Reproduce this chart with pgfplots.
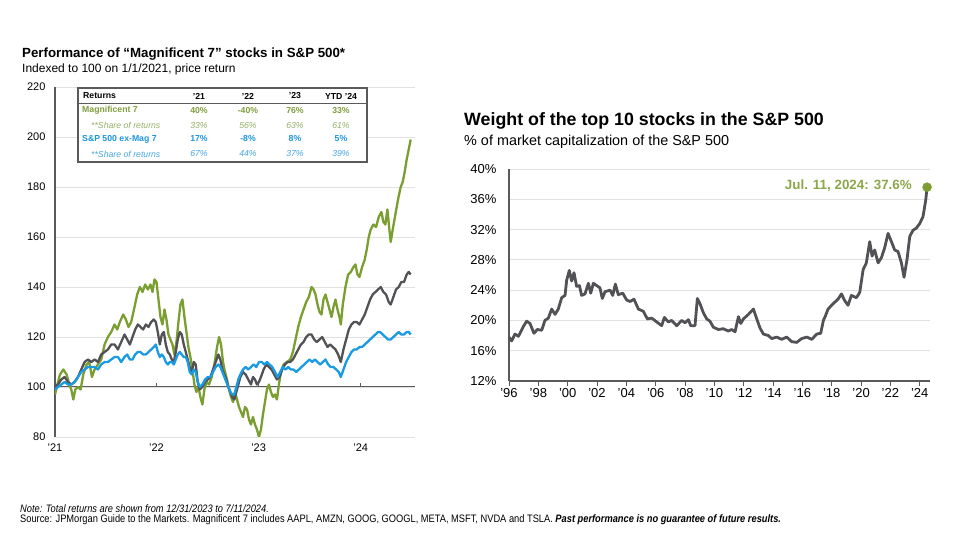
\documentclass[border=0pt]{standalone}
\usepackage{fontspec}
\setmainfont{Liberation Sans}
\newfontfamily\narrowfont[FakeStretch=0.86]{Liberation Sans}
\usepackage{pgfplots}
\pgfplotsset{compat=1.18}
\definecolor{magc}{RGB}{122,158,48}
\definecolor{spc}{RGB}{82,82,86}
\definecolor{exc}{RGB}{25,155,228}
\definecolor{tgreen}{RGB}{128,158,60}
\definecolor{tgreenl}{RGB}{150,176,104}
\definecolor{tblue}{RGB}{30,150,222}
\definecolor{tbluel}{RGB}{72,166,226}
\definecolor{annot}{RGB}{140,166,74}
\definecolor{gridc}{RGB}{225,225,225}
\definecolor{axc}{RGB}{90,90,90}
\begin{document}
\begin{tikzpicture}
\fill[white] (0pt,0pt) rectangle (960pt,540pt);
% ---------- titles ----------
\node[anchor=base west, inner sep=0pt, font=\bfseries\fontsize{13.3}{15}\selectfont] at (22pt,482pt) {Performance of “Magnificent 7” stocks in S\&P 500*};
\node[anchor=base west, inner sep=0pt, font=\fontsize{12}{14}\selectfont] at (22pt,467pt) {Indexed to 100 on 1/1/2021, price return};
\node[anchor=base west, inner sep=0pt, font=\bfseries\fontsize{17.8}{20}\selectfont] at (464pt,414pt) {Weight of the top 10 stocks in the S\&P 500};
\node[anchor=base west, inner sep=0pt, font=\fontsize{14.4}{17}\selectfont] at (464pt,394pt) {\% of market capitalization of the S\&P 500};

% ---------- left chart ----------
\begin{axis}[
  at={(55pt,103pt)}, anchor=south west,
  scale only axis, width=360pt, height=350pt,
  xmin=163, xmax=1245, ymin=80, ymax=220,
  xtick={163,468,775,1082}, xticklabels={'21,'22,'23,'24},
  ytick={80,100,...,220},
  ymajorgrids, grid style={gridc, line width=0.8pt},
  extra y ticks={100}, extra y tick labels={},
  extra y tick style={grid style={axc, line width=1pt}},
  axis x line*=bottom, axis y line*=left,
  x axis line style={draw=none},
  y axis line style={axc, line width=1.2pt},
  major tick length=0pt,
  tick label style={font=\fontsize{11}{13}\selectfont},
  /pgf/number format/assume math mode=true,
  yticklabel style={xshift=-6pt},
  xticklabel style={yshift=-3pt},
]
\draw[axc, line width=1pt] (axis cs:468,100) -- ++(0pt,4pt);
\draw[axc, line width=1pt] (axis cs:775,100) -- ++(0pt,4pt);
\draw[axc, line width=1pt] (axis cs:1082,100) -- ++(0pt,4pt);
\addplot[magc, line width=2.3pt, line join=round] coordinates {
(163,97)(170,101)(178,105)(188,107)(198,105)(206,101)(212,99)(218,95)(224,99)(232,100)(240,99)(248,105)(258,109)(266,110)(274,104)(282,107)(292,109)(302,111)(312,117)(322,120)(332,122)(342,125)(350,123)(358,126)(368,129)(376,127)(384,124)(392,126)(402,132)(410,137)(418,140)(426,138)(434,141)(442,139)(450,141)(456,138)(462,143)(468,142)(474,135)(480,128)(486,125)(492,131)(498,127)(504,121)(510,119)(516,117)(522,113)(528,118)(534,126)(540,133)(546,135)(552,128)(558,122)(564,116)(570,112)(576,107)(582,101)(588,98)(594,100)(600,96)(606,93)(612,99)(618,102)(626,101)(634,104)(642,109)(650,116)(656,120)(662,117)(668,110)(674,106)(680,103)(686,99)(692,96)(698,94)(704,98)(710,95)(716,92)(722,90)(728,88)(734,92)(740,91)(746,87)(752,85)(758,88)(764,85)(770,83)(776,80)(782,83)(788,89)(794,94)(800,99)(806,101)(812,98)(818,96)(824,97)(830,95)(836,101)(842,106)(850,109)(860,110)(870,111)(878,114)(886,119)(894,124)(902,128)(910,131)(918,134)(926,136)(934,140)(940,139)(946,137)(952,133)(958,130)(964,129)(970,135)(976,137)(982,134)(988,131)(994,128)(1000,132)(1006,135)(1012,131)(1018,128)(1022,125)(1028,133)(1036,140)(1044,145)(1052,146)(1060,148)(1066,149)(1072,145)(1078,144)(1086,148)(1094,151)(1100,155)(1106,160)(1112,163)(1120,165)(1128,164)(1136,168)(1144,170)(1150,166)(1156,165)(1162,171)(1168,163)(1172,158)(1178,163)(1186,169)(1194,175)(1202,180)(1208,182)(1214,186)(1220,191)(1226,195)(1232,199)
};
\addplot[spc, line width=2.3pt, line join=round] coordinates {
(163,100)(172,101)(182,103)(192,104)(202,102)(212,101)(222,102)(232,104)(242,107)(252,110)(262,111)(272,110)(282,111)(292,110)(302,113)(312,114)(322,115)(332,117)(342,117)(352,115)(362,118)(372,121)(380,119)(388,117)(396,120)(404,123)(412,125)(420,124)(428,123)(436,125)(444,124)(452,126)(460,127)(466,126)(472,122)(478,117)(484,121)(490,122)(496,117)(502,114)(508,113)(514,111)(520,110)(526,114)(532,119)(538,122)(544,121)(550,117)(556,114)(562,111)(568,108)(574,106)(580,110)(586,109)(592,102)(598,99)(606,100)(614,102)(622,103)(630,104)(638,107)(646,110)(654,113)(660,111)(666,107)(672,105)(678,103)(684,100)(690,98)(696,96)(702,95)(708,98)(714,101)(720,104)(728,106)(736,105)(744,103)(752,101)(758,104)(764,103)(770,101)(776,102)(782,104)(790,107)(798,109)(806,108)(814,107)(822,105)(830,103)(838,104)(846,107)(854,109)(862,110)(870,110)(878,111)(886,113)(894,115)(902,117)(910,118)(918,120)(926,121)(934,121)(942,119)(950,118)(958,119)(966,120)(974,118)(982,116)(990,117)(998,116)(1006,115)(1014,113)(1022,110)(1030,115)(1038,119)(1046,123)(1054,125)(1062,126)(1070,126)(1078,125)(1086,127)(1094,129)(1102,132)(1110,135)(1118,137)(1126,138)(1134,139)(1142,140)(1150,138)(1158,137)(1166,134)(1172,133)(1180,136)(1188,139)(1196,140)(1204,142)(1212,142)(1220,145)(1226,146)(1232,145)
};
\addplot[exc, line width=2.3pt, line join=round] coordinates {
(163,99)(172,100)(182,101)(192,102)(202,101)(212,101)(222,102)(232,104)(242,106)(252,107)(262,108)(272,108)(282,108)(292,107)(302,109)(312,110)(322,110)(332,111)(342,112)(352,112)(362,110)(372,112)(380,113)(388,111)(396,111)(404,113)(412,114)(420,114)(428,113)(436,113)(444,114)(452,115)(460,116)(466,117)(472,114)(478,112)(484,113)(490,112)(496,110)(502,109)(508,110)(514,110)(520,109)(526,111)(532,113)(538,114)(544,113)(550,112)(556,112)(562,110)(568,106)(574,105)(580,107)(586,106)(592,102)(598,100)(606,101)(614,103)(622,104)(630,104)(638,106)(646,108)(654,109)(660,108)(666,106)(672,104)(678,102)(684,100)(690,98)(696,97)(702,97)(708,100)(714,103)(720,105)(728,107)(736,108)(744,107)(752,108)(760,109)(768,108)(776,110)(784,110)(792,109)(800,110)(808,109)(816,108)(824,106)(832,104)(840,106)(848,108)(856,107)(864,108)(872,107)(880,107)(888,106)(896,107)(904,108)(912,109)(920,110)(928,111)(936,110)(944,111)(952,110)(960,109)(968,110)(976,111)(984,109)(992,108)(1000,108)(1008,107)(1016,106)(1022,104)(1030,107)(1038,110)(1046,112)(1054,114)(1062,115)(1070,115)(1078,116)(1086,116)(1094,117)(1102,118)(1110,119)(1118,120)(1126,121)(1134,122)(1140,122)(1148,121)(1156,120)(1164,119)(1172,119)(1180,120)(1188,121)(1196,122)(1204,121)(1212,121)(1220,122)(1226,122)(1232,121)
};
\end{axis}

% ---------- returns table ----------
\draw[axc, line width=1.2pt, fill=white] (78pt,452pt) rectangle (367pt,378pt);
\draw[axc, line width=0.9pt] (78pt,437pt) -- (367pt,437pt);
\begin{scope}[every node/.style={inner sep=0pt, font=\fontsize{8.7}{10}\selectfont}]
\node[anchor=west, font=\bfseries\fontsize{8.7}{10}\selectfont] at (83pt,444pt) {Returns};
\node[font=\bfseries\fontsize{8.7}{10}\selectfont] at (199pt,444pt) {'21};
\node[font=\bfseries\fontsize{8.7}{10}\selectfont] at (248pt,444pt) {'22};
\node[font=\bfseries\fontsize{8.7}{10}\selectfont] at (295pt,444pt) {'23};
\node[font=\bfseries\fontsize{8.7}{10}\selectfont] at (341pt,444pt) {YTD '24};
\begin{scope}[every node/.append style={text=tgreen, font=\bfseries\fontsize{8.7}{10}\selectfont}]
\node[anchor=west] at (82pt,429.5pt) {Magnificent 7};
\node at (199pt,429.5pt) {40\%};
\node at (248pt,429.5pt) {-40\%};
\node at (295pt,429.5pt) {76\%};
\node at (341pt,429.5pt) {33\%};
\end{scope}
\begin{scope}[every node/.append style={text=tgreenl, font=\itshape\fontsize{8.7}{10}\selectfont}]
\node[anchor=west] at (91pt,414.5pt) {**Share of returns};
\node at (199pt,414.5pt) {33\%};
\node at (248pt,414.5pt) {56\%};
\node at (295pt,414.5pt) {63\%};
\node at (341pt,414.5pt) {61\%};
\end{scope}
\begin{scope}[every node/.append style={text=tblue, font=\bfseries\fontsize{8.7}{10}\selectfont}]
\node[anchor=west] at (82pt,401pt) {S\&P 500 ex-Mag 7};
\node at (199pt,401pt) {17\%};
\node at (248pt,401pt) {-8\%};
\node at (295pt,401pt) {8\%};
\node at (341pt,401pt) {5\%};
\end{scope}
\begin{scope}[every node/.append style={text=tbluel, font=\itshape\fontsize{8.7}{10}\selectfont}]
\node[anchor=west] at (91pt,386pt) {**Share of returns};
\node at (199pt,386pt) {67\%};
\node at (248pt,386pt) {44\%};
\node at (295pt,386pt) {37\%};
\node at (341pt,386pt) {39\%};
\end{scope}
\end{scope}

% ---------- right chart ----------
\begin{axis}[
  at={(509pt,159pt)}, anchor=south west,
  scale only axis, width=421pt, height=212pt,
  xmin=1996, xmax=2024.7, ymin=12, ymax=40,
  xtick={1996,1998,...,2024},
  xticklabels={'96,'98,'00,'02,'04,'06,'08,'10,'12,'14,'16,'18,'20,'22,'24},
  ytick={12,16,...,40},
  yticklabel={\pgfmathprintnumber{\tick}\%},
  ymajorgrids, grid style={gridc, line width=0.8pt},
  axis x line*=bottom, axis y line*=left,
  axis line style={axc, line width=1.2pt},
  xtick style={axc, line width=1pt},
  ytick style={draw=none},
  major tick length=5pt, tick align=outside,
  tick label style={font=\fontsize{13}{15}\selectfont},
  /pgf/number format/assume math mode=true,
  yticklabel style={xshift=-4pt},
  xticklabel style={yshift=1pt},
  clip=false,
]
\addplot[spc, line width=2.8pt, line join=round] coordinates {
(1996.00,17.8)(1996.18,17.3)(1996.41,18.2)(1996.64,17.9)(1996.98,19.2)(1997.20,19.9)(1997.43,19.6)(1997.70,18.3)(1997.93,18.8)(1998.23,18.7)(1998.45,20.0)(1998.68,20.3)(1998.91,21.5)(1999.14,20.8)(1999.36,21.5)(1999.59,23.0)(1999.82,23.3)(1999.93,25.3)(2000.11,26.6)(2000.27,25.2)(2000.43,26.3)(2000.61,24.5)(2000.80,24.6)(2000.95,23.3)(2001.18,23.5)(2001.41,24.9)(2001.57,23.6)(2001.75,24.9)(2001.98,24.6)(2002.20,24.3)(2002.36,22.9)(2002.55,23.8)(2002.89,24.0)(2003.07,23.3)(2003.25,24.8)(2003.45,23.4)(2003.75,23.6)(2004.02,22.7)(2004.25,22.5)(2004.52,22.8)(2004.82,21.5)(2005.16,21.2)(2005.43,20.2)(2005.73,20.3)(2006.07,19.8)(2006.41,19.3)(2006.59,20.4)(2006.86,19.8)(2007.09,20.0)(2007.43,19.3)(2007.77,20.0)(2008.00,19.7)(2008.23,20.1)(2008.39,19.3)(2008.68,19.3)(2008.84,22.9)(2009.02,22.2)(2009.25,21.0)(2009.48,20.2)(2009.70,19.9)(2009.93,19.1)(2010.27,18.8)(2010.61,18.9)(2010.95,18.6)(2011.18,18.8)(2011.41,18.5)(2011.64,20.5)(2011.80,19.6)(2011.98,20.2)(2012.32,20.8)(2012.66,21.5)(2012.89,20.2)(2013.11,19.0)(2013.34,18.2)(2013.68,18.0)(2013.91,17.6)(2014.25,17.8)(2014.59,17.5)(2014.93,17.8)(2015.27,17.2)(2015.61,17.1)(2015.95,17.6)(2016.30,17.8)(2016.64,17.5)(2016.98,18.2)(2017.25,18.3)(2017.43,20.0)(2017.55,20.5)(2017.75,21.5)(2018.09,22.2)(2018.43,22.8)(2018.66,23.5)(2018.89,22.6)(2019.11,22.0)(2019.34,23.3)(2019.68,23.0)(2019.91,23.7)(2020.14,26.7)(2020.36,27.6)(2020.59,30.4)(2020.75,28.5)(2020.93,29.3)(2021.16,27.6)(2021.39,28.3)(2021.61,29.6)(2021.84,31.5)(2022.07,30.4)(2022.29,29.3)(2022.52,29.1)(2022.75,27.6)(2022.93,25.7)(2023.13,28.0)(2023.32,31.1)(2023.54,31.9)(2023.77,32.2)(2024.00,32.8)(2024.22,33.7)(2024.41,35.9)(2024.50,37.6)
};
\addplot[only marks, mark=*, mark size=4.5pt, color=magc] coordinates {(2024.50,37.6)};
\end{axis}
\node[anchor=east, inner sep=0pt, text=annot, font=\bfseries\fontsize{13.4}{15}\selectfont] at (912pt,354pt) {Jul. 11, 2024: 37.6\%};

% ---------- footnotes ----------
\node[anchor=west, inner sep=0pt, font=\narrowfont\itshape\fontsize{10.8}{12}\selectfont] at (20pt,31pt) {Note: Total returns are shown from 12/31/2023 to 7/11/2024.};
\node[anchor=west, inner sep=0pt, font=\narrowfont\fontsize{10.8}{12}\selectfont] at (20pt,20pt) {Source: JPMorgan Guide to the Markets. Magnificent 7 includes AAPL, AMZN, GOOG, GOOGL, META, MSFT, NVDA and TSLA. \textbf{\textit{Past performance is no guarantee of future results.}}};
\end{tikzpicture}
\end{document}
